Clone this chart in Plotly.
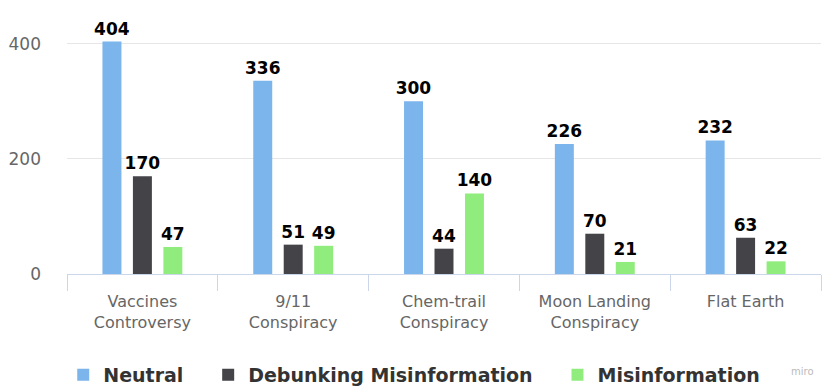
import plotly.graph_objects as go

categories = ["Vaccines<br>Controversy", "9/11<br>Conspiracy", "Chem-trail<br>Conspiracy",
              "Moon Landing<br>Conspiracy", "Flat Earth"]
neutral = [404, 336, 300, 226, 232]
debunking = [170, 51, 44, 70, 63]
misinformation = [47, 49, 140, 21, 22]

# trailing no-break spaces widen the gap between legend entries
series = [
    ("Neutral\u00a0\u00a0\u00a0", neutral, "#7cb5ec"),
    ("Debunking Misinformation\u00a0\u00a0\u00a0", debunking, "#434348"),
    ("Misinformation", misinformation, "#90ed7d"),
]

fig = go.Figure()
for name, vals, color in series:
    fig.add_trace(go.Bar(
        x=categories, y=vals, name=name, marker_color=color, marker_line_width=0,
        text=vals, textposition="outside", cliponaxis=False,
        textfont=dict(family="DejaVu Sans", size=17, color="#000000", weight="bold"),
    ))

# page has an 8px body margin, so the figure is sized to the visible area
fig.update_layout(
    width=822, height=384,
    margin=dict(l=59, r=9, t=22, b=118, autoexpand=False),
    paper_bgcolor="white", plot_bgcolor="white",
    font=dict(family="DejaVu Sans", color="#666666"),
    barmode="group", bargap=0.394, bargroupgap=0.377,
    uniformtext=dict(minsize=17, mode="show"),
    showlegend=True,
    legend=dict(
        orientation="h", x=-0.005, xanchor="left", y=-0.414, yanchor="middle",
        font=dict(size=19, color="#333333", weight="bold"),
        itemsizing="constant",
    ),
    annotations=[dict(
        text="miro", xref="paper", yref="paper", x=0.993, y=-0.43,
        showarrow=False, font=dict(size=10, color="#bbbbbb"),
    )],
)

fig.update_xaxes(
    showline=True, linecolor="#ccd6eb", linewidth=1, automargin=False,
    ticks="outside", ticklen=16, tickcolor="#ccd6eb", tickson="boundaries",
    ticklabelstandoff=13,
    tickfont=dict(size=16, color="#666666"), showgrid=False,
)
fig.update_yaxes(
    range=[0, 424], tickvals=[0, 200, 400], showgrid=True, gridcolor="#e6e6e6",
    zeroline=False, showline=False, ticklabelstandoff=25, automargin=False,
    tickfont=dict(size=17, color="#666666"),
)

fig.write_html("out.html")
